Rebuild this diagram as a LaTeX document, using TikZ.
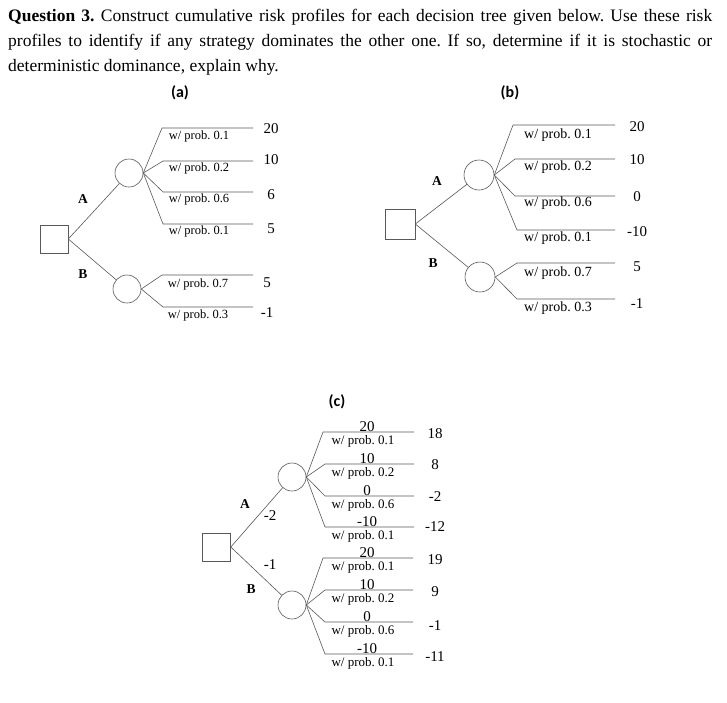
\documentclass[tikz,border=0pt]{standalone}
\usepackage{fontspec}
\setmainfont{Liberation Serif}
\newfontfamily\calib{Carlito}
\frenchspacing
\tikzset{
  ln/.style={draw=black!65, line width=0.6pt},
  sqbox/.style={draw=black!65, line width=0.6pt, minimum size=#1, inner sep=0pt},
  chance/.style={draw=black!65, line width=0.6pt, circle, minimum size=#1, inner sep=0pt},
  prb/.style={font=\fontsize{#1}{#1}\selectfont, inner sep=0pt},
  val/.style={font=\fontsize{15}{15}\selectfont, inner sep=0pt},
  let/.style={font=\fontsize{13.5}{13.5}\selectfont\bfseries, inner sep=0pt},
  hdr/.style={font=\fontsize{16}{16}\selectfont\calib\bfseries, inner sep=0pt},
}
\begin{document}
\begin{tikzpicture}[x=1pt,y=-1pt]
\useasboundingbox (0,0) rectangle (727,702);
\fill[white] (0,0) rectangle (727,702);
% title
\begin{scope}[every node/.style={anchor=west, inner sep=0pt, font=\fontsize{17.5}{17.5}\selectfont}]
\node (t1) at (8,17) {\makebox[704pt][s]{\textbf{Question 3.} Construct cumulative risk profiles for each decision tree given below. Use these risk}};
\node (t2) at (8,42) {\makebox[704pt][s]{profiles to identify if any strategy dominates the other one. If so, determine if it is stochastic or}};
\node (t3) at (8,67) {deterministic dominance, explain why.};
\end{scope}
\node[hdr] (ha) at (180,93) {(a)};
\node[hdr] (hb) at (510,93) {(b)};
\node[hdr] (hc) at (337,402) {(c)};

% ---------------- (a)
\node[sqbox=28pt] (sqa) at (54,239) {};
\node[chance=28pt] (caA) at (129,173) {};
\node[chance=28pt] (caB) at (127,289) {};
\draw[ln] (sqa.east) -- (caA);
\draw[ln] (sqa.east) -- (caB);
\node[let] (la) at (83,199) {A};
\node[let] (lb) at (83,274) {B};
\foreach \n/\ex/\ey/\p/\py/\v/\vy in {1/162/128/0.1/136/20/129, 2/163/161/0.2/168/10/160, 3/163/192/0.6/199/6/195, 4/163/224/0.1/231/5/229}{
  \coordinate (aAe\n) at (\ex,\ey);
  \coordinate (aAf\n) at (253,\ey);
  \draw[ln] (caA.east) -- (aAe\n) -- (aAf\n);
  \node[prb=12.5] (aAp\n) at (199,\py) {w/ prob. \p};
  \node[val] (aAv\n) at (271,\vy) {\v};
}
\foreach \n/\ex/\ey/\p/\py/\v/\vy in {1/162/275/0.7/284/5/283, 2/163/307/0.3/315/-1/313}{
  \coordinate (aBe\n) at (\ex,\ey);
  \coordinate (aBf\n) at (253,\ey);
  \draw[ln] (caB.east) -- (aBe\n) -- (aBf\n);
  \node[prb=12.5] (aBp\n) at (198,\py) {w/ prob. \p};
  \node[val] (aBv\n) at (267,\vy) {\v};
}

% ---------------- (b)
\node[sqbox=30pt] (sqb) at (400,224) {};
\node[chance=30pt] (cbA) at (479,175) {};
\node[chance=30pt] (cbB) at (480,277) {};
\draw[ln] (sqb.east) -- (cbA);
\draw[ln] (sqb.east) -- (cbB);
\node[let] (lba) at (437,181) {A};
\node[let] (lbb) at (433,263) {B};
\foreach \n/\ex/\ey/\p/\py/\v/\vy in {1/513/125/0.1/135/20/127, 2/515/159/0.2/167/10/160, 3/515/196/0.6/203/0/197, 4/517/230/0.1/238/-10/232}{
  \coordinate (bAe\n) at (\ex,\ey);
  \coordinate (bAf\n) at (615,\ey);
  \draw[ln] (cbA.east) -- (bAe\n) -- (bAf\n);
  \node[prb=14] (bAp\n) at (558,\py) {w/ prob. \p};
  \node[val] (bAv\n) at (637,\vy) {\v};
}
\foreach \n/\ex/\ey/\p/\py/\v/\vy in {1/517/263/0.7/273/5/267, 2/517/299/0.3/308/-1/304}{
  \coordinate (bBe\n) at (\ex,\ey);
  \coordinate (bBf\n) at (615,\ey);
  \draw[ln] (cbB.east) -- (bBe\n) -- (bBf\n);
  \node[prb=14] (bBp\n) at (558,\py) {w/ prob. \p};
  \node[val] (bBv\n) at (637,\vy) {\v};
}

% ---------------- (c)
\node[sqbox=28pt] (sqc) at (216.5,547) {};
\node[chance=28pt] (ccA) at (292,477) {};
\node[chance=28pt] (ccB) at (292,605) {};
\draw[ln] (sqc.east) -- (ccA);
\draw[ln] (sqc.east) -- (ccB);
\node[let] (lca) at (245,504) {A};
\node[let] (lcb) at (251,589) {B};
\node[val] (lcam) at (270,516) {-2};
\node[val] (lcbm) at (270,565) {-1};
\foreach \n/\ex/\ey/\t/\p/\v/\vy in {1/323/432/20/0.1/18/434, 2/325/464/10/0.2/8/465, 3/325/496/0/0.6/-2/497, 4/325/527/-10/0.1/-12/527}{
  \coordinate (cAe\n) at (\ex,\ey);
  \coordinate (cAf\n) at (414,\ey);
  \draw[ln] (ccA.east) -- (cAe\n) -- (cAf\n);
  \node[val, anchor=base] (cAt\n) at (367,\ey-1) {\t};
  \node[prb=13] (cAp\n) at (363,\ey+9.5) {w/ prob. \p};
  \node[val] (cAv\n) at (435,\vy) {\v};
}
\foreach \n/\ex/\ey/\t/\p/\v/\vy in {1/323/558/20/0.1/19/560, 2/325/590/10/0.2/9/592, 3/325/622/0/0.6/-1/626, 4/325/654/-10/0.1/-11/657}{
  \coordinate (cBe\n) at (\ex,\ey);
  \coordinate (cBf\n) at (413,\ey);
  \draw[ln] (ccB.east) -- (cBe\n) -- (cBf\n);
  \node[val, anchor=base] (cBt\n) at (367,\ey-1) {\t};
  \node[prb=13] (cBp\n) at (363,\ey+9.5) {w/ prob. \p};
  \node[val] (cBv\n) at (435,\vy) {\v};
}
\end{tikzpicture}
\end{document}
